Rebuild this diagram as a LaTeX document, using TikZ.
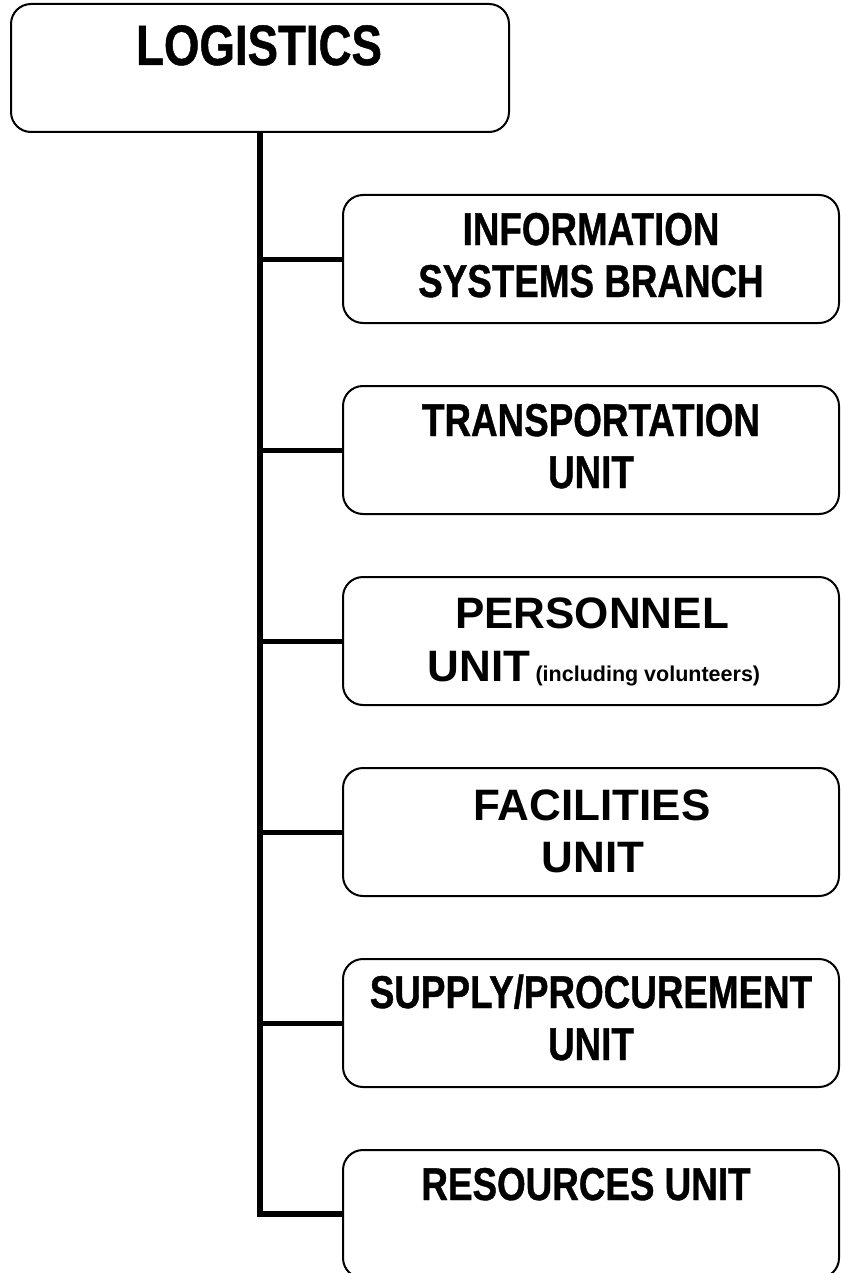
\documentclass[tikz,border=0pt]{standalone}
\usepackage{fontspec}
\setmainfont{Liberation Sans}
\newfontfamily\narrowfont[FakeStretch=0.8,FakeBold=0.8]{Liberation Sans}
\begin{document}
\begin{tikzpicture}[x=1pt,y=-1pt,
  box/.style={draw, line width=2pt, rounded corners=20pt, minimum width=496pt,
    minimum height=128pt, inner sep=0pt, outer sep=0pt, fill=white},
  topbox/.style={box, minimum width=498pt},
  cond/.style={anchor=base, inner sep=0pt, font=\narrowfont\bfseries\fontsize{46}{52}\selectfont},
  condbig/.style={anchor=base, inner sep=0pt, font=\narrowfont\bfseries\fontsize{57}{64}\selectfont},
  plain/.style={anchor=base, inner sep=0pt, font=\bfseries\fontsize{44}{52}\selectfont},
  trunk/.style={line width=6pt, line join=miter},
  branch/.style={line width=5pt}]
\useasboundingbox (0,0) rectangle (840,1273);
\clip (0,0) rectangle (840,1273);
% boxes
\node[topbox] (log) at (260,68) {};
\node[box] (b1) at (591,259) {};
\node[box] (b2) at (591,450) {};
\node[box] (b3) at (591,641) {};
\node[box] (b4) at (591,832) {};
\node[box] (b5) at (591,1023) {};
\node[box] (b6) at (591,1214) {};
% connectors
\draw[trunk] (log.south) |- (b6.west);
\foreach \b in {b1,b2,b3,b4,b5}
  \draw[branch] (\b.west) -- (\b.west -| log.south);
% texts
\node[condbig] (tlog) at (259,65) {LOGISTICS};
\node[cond] (t1a) at (591,245) {INFORMATION};
\node[cond] (t1b) at (591,297) {SYSTEMS BRANCH};
\node[cond] (t2a) at (591,436) {TRANSPORTATION};
\node[cond] (t2b) at (591,488) {UNIT};
\node[plain] (t3a) at (592,628) {PERSONNEL};
\node[plain] (t3b) at (594,681) {UNIT{\fontsize{21.5}{24}\selectfont\hspace{5pt}(including volunteers)}};
\node[plain] (t4a) at (592,820) {FACILITIES};
\node[plain] (t4b) at (593,872) {UNIT};
\node[cond] (t5a) at (591,1008) {SUPPLY/PROCUREMENT};
\node[cond] (t5b) at (591,1060) {UNIT};
\node[cond] (t6a) at (586,1200) {RESOURCES UNIT};
\end{tikzpicture}
\end{document}
